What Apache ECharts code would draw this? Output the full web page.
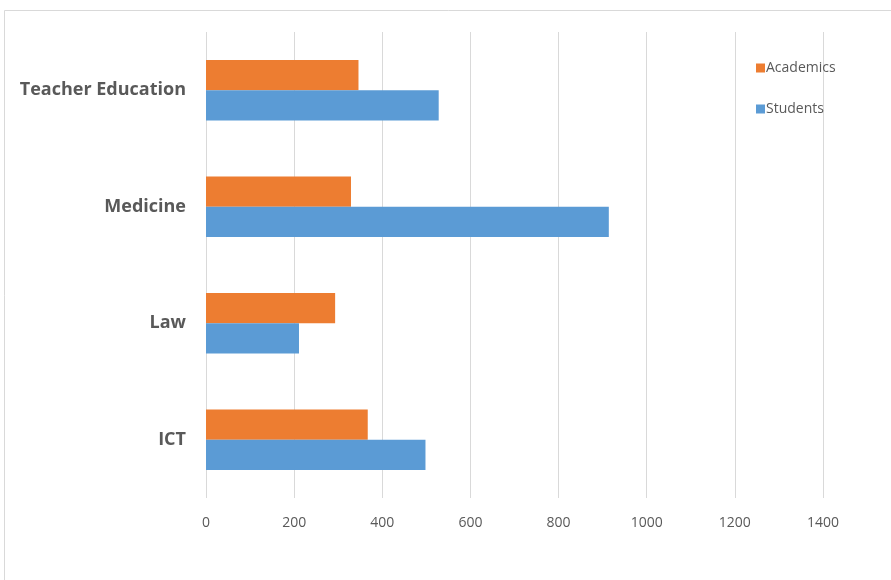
<!DOCTYPE html>
<html><head><meta charset="utf-8">
<script src="https://cdn.jsdelivr.net/npm/echarts@6/dist/echarts.min.js"></script>
<style>html,body{margin:0;padding:0;background:#fff}#c{width:891px;height:580px}</style>
</head><body><div id="c"></div>
<script>
const categories = ['ICT', 'Law', 'Medicine', 'Teacher Education'];
const students = [498, 211, 914, 528];
const academics = [367, 293, 329, 346];
const xTicks = [0, 200, 400, 600, 800, 1000, 1200, 1400];

const chart = echarts.init(document.getElementById('c'));
chart.setOption({
  animation: false,
  backgroundColor: '#fff',
  graphic: [{type:'rect', shape:{x:4.5, y:10.5, width:900, height:580}, style:{fill:'none', stroke:'#d9d9d9', lineWidth:1}, silent:true}],
  grid: {left: 206, right: 68, top: 32, bottom: 82},
  legend: {
    orient: 'vertical', left: 751, top: 56,
    data: ['Academics', 'Students'],
    icon: 'rect', itemWidth: 9, itemHeight: 9, itemGap: 27,
    textStyle: {fontFamily: 'Open Sans', fontSize: 14, color: '#595959', padding:[0,0,0,-4]}
  },
  xAxis: {
    type: 'value', min: xTicks[0], max: xTicks[xTicks.length-1], interval: 200,
    axisLine: {show: false}, axisTick: {show: false},
    splitLine: {lineStyle: {color: '#d9d9d9', width: 1}},
    axisLabel: {fontFamily: 'Open Sans', fontSize: 14, color: '#595959', margin: 18, formatter: v => String(v)}
  },
  yAxis: {
    type: 'category', data: categories,
    axisLine: {show: false}, axisTick: {show: false},
    axisLabel: {fontFamily: 'Open Sans', fontSize: 18, fontWeight: 'bold', color: '#595959', margin: 20, padding: [4, 0, 0, 0]}
  },
  series: [
    {name: 'Academics', type: 'bar', data: academics, itemStyle: {color: '#ED7D31'}, barGap: '0%', barCategoryGap: '48%'},
    {name: 'Students', type: 'bar', data: students, itemStyle: {color: '#5B9BD5'}, barGap: '0%', barCategoryGap: '48%'}
  ]
});
</script></body></html>
